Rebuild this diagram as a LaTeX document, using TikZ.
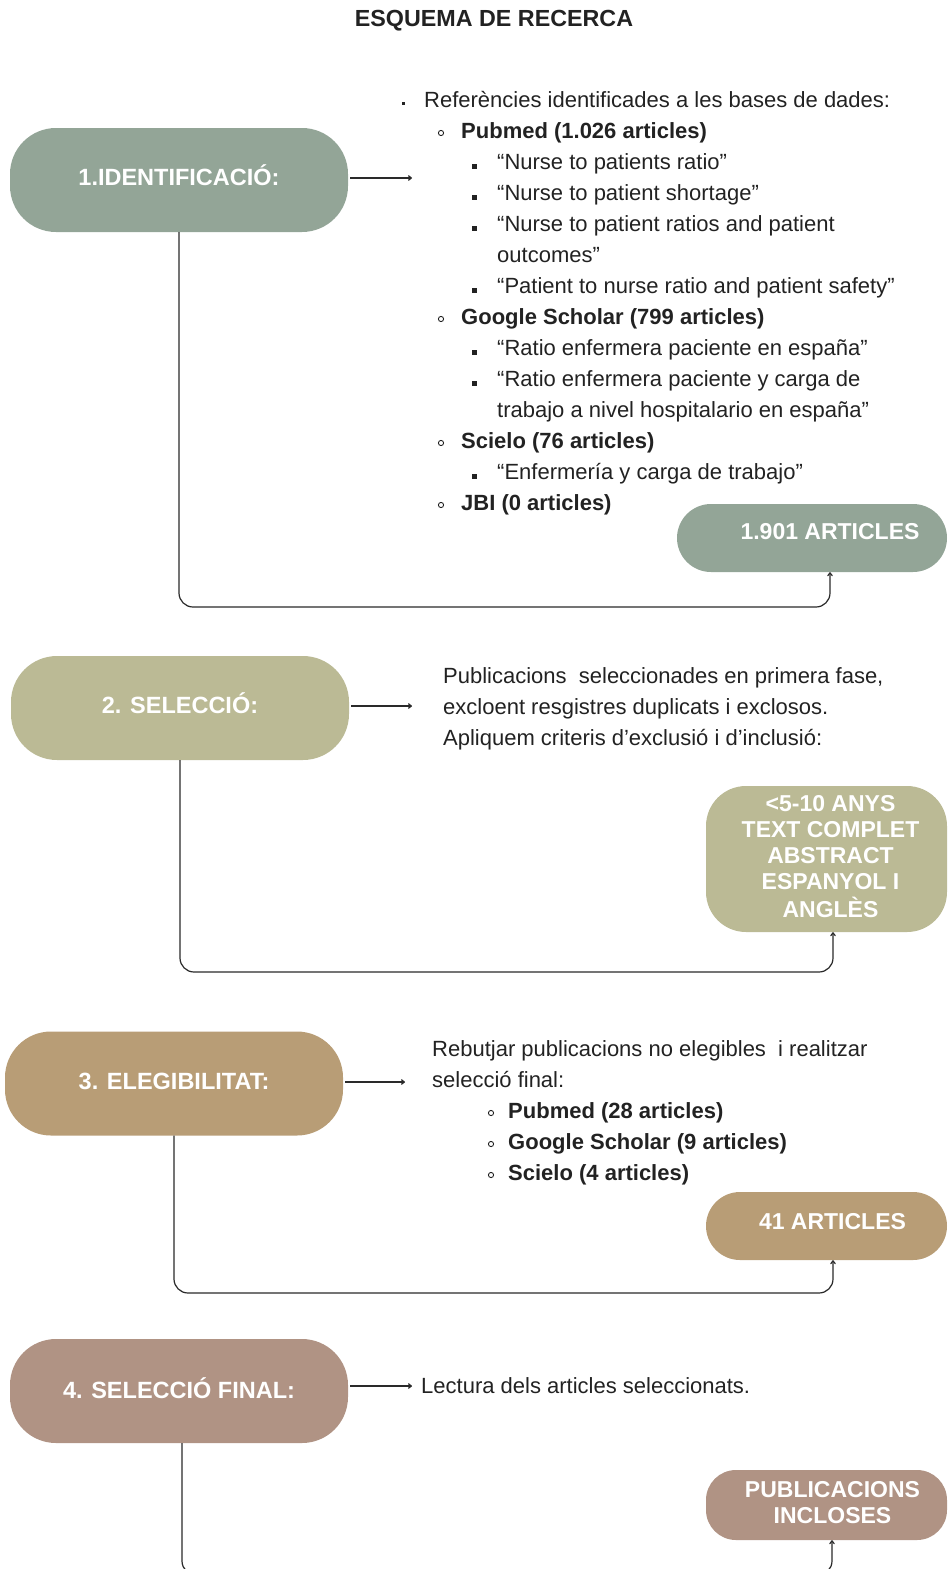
\documentclass[tikz,border=0pt]{standalone}
\usepackage{fontspec}
\setmainfont{Liberation Sans}
\usetikzlibrary{arrows.meta}
\definecolor{cgreen}{HTML}{93A597}
\definecolor{colive}{HTML}{BBBA95}
\definecolor{ctan}{HTML}{B89D76}
\definecolor{crose}{HTML}{B09384}
\definecolor{txt}{HTML}{222222}
\definecolor{ln}{HTML}{2A2A2A}
\begin{document}
\begin{tikzpicture}[x=1pt,y=-1pt,
  stage/.style={rounded corners=46pt, minimum width=338pt, minimum height=104pt, inner sep=0pt, text=white, font=\bfseries\fontsize{23.5}{26}\selectfont},
  result/.style={rounded corners=34pt, minimum width=241pt, minimum height=68pt, inner sep=0pt, text=white, align=center, font=\bfseries\fontsize{23}{26}\selectfont},
  lst/.style={anchor=base west, inner sep=0pt, text=txt, font=\fontsize{22}{26}\selectfont},
  bl/.style={lst, font=\bfseries\fontsize{22}{26}\selectfont},
  conn/.style={draw=ln, line width=1.2pt, rounded corners=14pt, -{To[length=4pt,width=5.5pt]}},
  arr/.style={draw=ln, line width=1.2pt, shorten <=2pt, -{To[length=4pt,width=5.5pt]}},
  sq/.style={fill=txt},
  ci/.style={draw=txt, line width=0.9pt},
]
\path[use as bounding box] (0,0) rectangle (949,1569);
\clip (0,0) rectangle (949,1569);

\node[font=\bfseries\fontsize{23.3}{26}\selectfont, text=txt, inner sep=0pt] (title) at (494,21) {ESQUEMA DE RECERCA};

% stage boxes
\node[stage, fill=cgreen] (s1) at (179,180) {\raisebox{5pt}[\height][\depth]{1.IDENTIFICACIÓ:}};
\node[stage, fill=colive] (s2) at (180,708) {\raisebox{5pt}[\height][\depth]{2. SELECCIÓ:}};
\node[stage, fill=ctan] (s3) at (174,1083.5) {\raisebox{2pt}[\height][\depth]{3. ELEGIBILITAT:}};
\node[stage, fill=crose] (s4) at (179,1391) {\raisebox{3pt}[\height][\depth]{4. SELECCIÓ FINAL:}};

% result boxes
\node[result, fill=cgreen, minimum width=270pt] (r1) at (812,538) {\raisebox{6pt}[\height][\depth]{\hspace*{36pt}1.901 ARTICLES}};
\node[result, fill=colive, minimum height=146pt, rounded corners=40pt] (r2) at (826.5,859) {\begin{tabular}{@{}c@{}}\hspace*{8pt}<5-10 ANYS\\\hspace*{8pt}TEXT COMPLET\\\hspace*{8pt}ABSTRACT\\\hspace*{8pt}ESPANYOL I\\\hspace*{8pt}ANGLÈS\end{tabular}};
\node[result, fill=ctan] (r3) at (826.5,1226) {\raisebox{4pt}[\height][\depth]{\hspace*{12pt}41 ARTICLES}};
\node[result, fill=crose, minimum height=70pt, rounded corners=30pt] (r4) at (826.5,1505) {\begin{tabular}{@{}c@{}}\hspace*{12pt}PUBLICACIONS\\\hspace*{12pt}INCLOSES\end{tabular}};

% horizontal arrows
\coordinate (a1) at (412,178);
\coordinate (a2) at (412,706);
\coordinate (a3) at (405,1082);
\coordinate (a4) at (412,1386);
\draw[arr] (s1.east |- a1) -- (a1);
\draw[arr] (s2.east |- a2) -- (a2);
\draw[arr] (s3.east |- a3) -- (a3);
\draw[arr] (s4.east |- a4) -- (a4);

% loop connectors
\coordinate (k1) at (830,607);
\coordinate (k2) at (833,972);
\coordinate (k3) at (833,1293);
\coordinate (k4) at (832,1575);
\draw[conn] (s1.south) |- (k1) -- ([xshift=18pt]r1.south);
\draw[conn] (s2.south) |- (k2) -- ([xshift=6.5pt]r2.south);
\draw[conn] (s3.south) |- (k3) -- ([xshift=6.5pt]r3.south);
\draw[conn] ([xshift=3pt]s4.south) |- (k4) -- ([xshift=5.5pt]r4.south);

% section 1 list
\node[lst] (l1) at (424,107) {Referències identificades a les bases de dades:};
\node[bl] (l2) at (461,138) {Pubmed (1.026 articles)};
\node[lst] (l3) at (497,169) {“Nurse to patients ratio”};
\node[lst] (l4) at (497,200) {“Nurse to patient shortage”};
\node[lst] (l5) at (497,231) {“Nurse to patient ratios and patient};
\node[lst] (l6) at (497,262) {outcomes”};
\node[lst] (l7) at (497,293) {“Patient to nurse ratio and patient safety”};
\node[bl] (l8) at (461,324) {Google Scholar (799 articles)};
\node[lst] (l9) at (497,355) {“Ratio enfermera paciente en españa”};
\node[lst] (l10) at (497,386) {“Ratio enfermera paciente y carga de};
\node[lst] (l11) at (497,417) {trabajo a nivel hospitalario en españa”};
\node[bl] (l12) at (461,448) {Scielo (76 articles)};
\node[lst] (l13) at (497,479) {“Enfermería y carga de trabajo”};
\node[bl] (l14) at (461,510) {JBI (0 articles)};
% bullets
\fill[sq] (401.5,101.5) rectangle (405,105);
\foreach \y in {133,319,443,505} \draw[ci] (441,\y) circle (2.6pt);
\foreach \y in {164,195,226,288,350,381,474} \fill[sq] (472,\y) rectangle (476.5,\y+4.5);

% section 2 text
\node[lst] (p1) at (443,683) {Publicacions\ \ seleccionades en primera fase,};
\node[lst] (p2) at (443,714) {excloent resgistres duplicats i exclosos.};
\node[lst] (p3) at (443,745) {Apliquem criteris d’exclusió i d’inclusió:};

% section 3 text
\node[lst] (q1) at (432,1056) {Rebutjar publicacions no elegibles\ \ i realitzar};
\node[lst] (q2) at (432,1087) {selecció final:};
\node[bl] (q3) at (508,1118) {Pubmed (28 articles)};
\node[bl] (q4) at (508,1149) {Google Scholar (9 articles)};
\node[bl] (q5) at (508,1180) {Scielo (4 articles)};
\foreach \y in {1113,1144,1175} \draw[ci] (491,\y) circle (2.6pt);

% section 4 text
\node[lst] (u1) at (421,1393) {Lectura dels articles seleccionats.};
\end{tikzpicture}
\end{document}
